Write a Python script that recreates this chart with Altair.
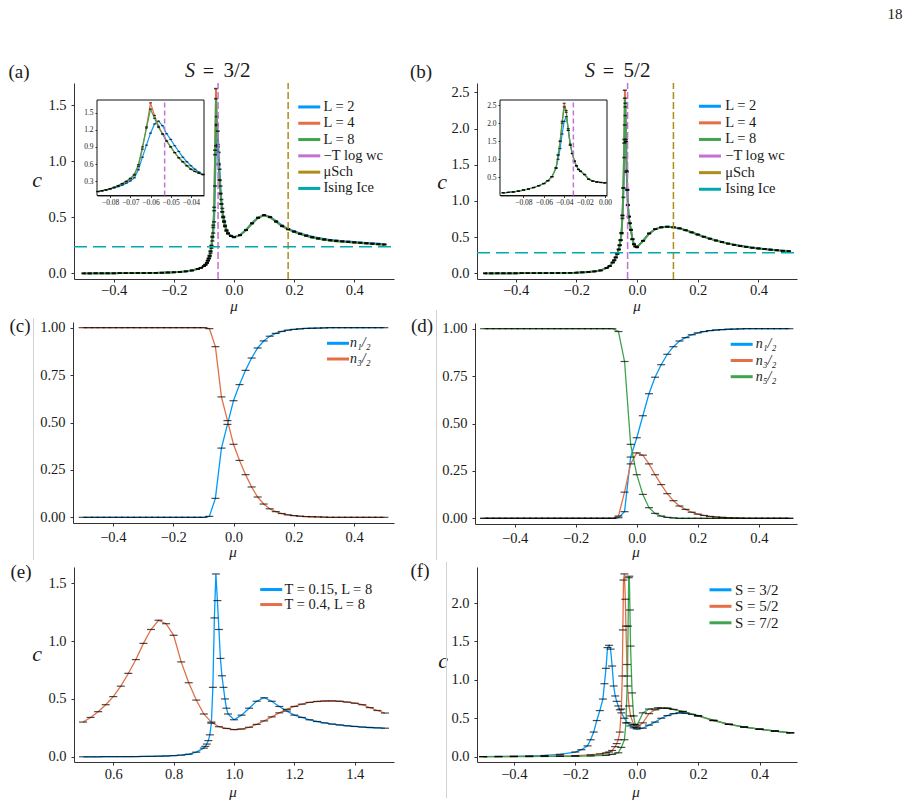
import altair as alt
import pandas as pd

W, H = 912, 805
FONT = "Liberation Serif"
BLUE, ORANGE, GREEN = "#009AFA", "#E36F47", "#3EA44E"
PURPLE, GOLD, TEAL = "#C371D2", "#AC8E18", "#00A9AD"
AXC = "#333333"
TXC = "#1a1a1a"

# ---------------- (a) S = 3/2 ----------------
mu_a = [-0.5, -0.48, -0.46, -0.44, -0.42, -0.4, -0.38, -0.36, -0.34, -0.32,
        -0.3, -0.28, -0.26, -0.24, -0.22, -0.2, -0.18, -0.16, -0.14, -0.12,
        -0.11, -0.1, -0.095, -0.09, -0.087, -0.084, -0.081, -0.078, -0.075, -0.072,
        -0.069, -0.066, -0.063, -0.06, -0.057, -0.054, -0.051, -0.048, -0.045, -0.042,
        -0.039, -0.036, -0.033, -0.03, -0.025, -0.02, -0.01, 0.0, 0.02, 0.04,
        0.06, 0.08, 0.1, 0.12, 0.14, 0.16, 0.18, 0.2, 0.22, 0.24,
        0.26, 0.28, 0.3, 0.32, 0.34, 0.36, 0.38, 0.4, 0.42, 0.44,
        0.46, 0.48, 0.5]
c_a_L2 = [0.000, 0.000, 0.001, 0.001, 0.001, 0.001, 0.002, 0.002, 0.002, 0.003,
          0.003, 0.004, 0.005, 0.006, 0.008, 0.010, 0.013, 0.018, 0.026, 0.040,
          0.050, 0.064, 0.076, 0.092, 0.112, 0.130, 0.150, 0.180, 0.225, 0.290,
          0.360, 0.460, 0.780, 1.140, 1.320, 1.270, 1.080, 0.930, 0.780, 0.660,
          0.580, 0.510, 0.470, 0.430, 0.390, 0.362, 0.337, 0.326, 0.343, 0.390,
          0.450, 0.500, 0.522, 0.506, 0.468, 0.428, 0.398, 0.378, 0.358, 0.342,
          0.328, 0.317, 0.308, 0.300, 0.294, 0.289, 0.285, 0.281, 0.277, 0.273,
          0.269, 0.265, 0.262]
c_a_L4 = [0.000, 0.000, 0.001, 0.001, 0.001, 0.001, 0.002, 0.002, 0.002, 0.003,
          0.003, 0.004, 0.005, 0.006, 0.008, 0.010, 0.013, 0.018, 0.026, 0.040,
          0.050, 0.065, 0.078, 0.095, 0.115, 0.134, 0.158, 0.196, 0.245, 0.322,
          0.410, 0.560, 1.100, 1.650, 1.400, 1.150, 0.980, 0.835, 0.715, 0.620,
          0.550, 0.500, 0.460, 0.420, 0.380, 0.355, 0.332, 0.322, 0.340, 0.386,
          0.446, 0.496, 0.519, 0.502, 0.462, 0.422, 0.394, 0.372, 0.352, 0.336,
          0.322, 0.311, 0.302, 0.295, 0.289, 0.285, 0.280, 0.276, 0.272, 0.268,
          0.264, 0.260, 0.257]
c_a_L8 = [0.000, 0.000, 0.001, 0.001, 0.001, 0.001, 0.002, 0.002, 0.002, 0.003,
          0.003, 0.004, 0.005, 0.006, 0.008, 0.010, 0.013, 0.018, 0.026, 0.040,
          0.050, 0.065, 0.078, 0.095, 0.115, 0.135, 0.160, 0.200, 0.250, 0.330,
          0.430, 0.590, 1.060, 1.560, 1.330, 1.130, 0.970, 0.830, 0.710, 0.620,
          0.550, 0.500, 0.460, 0.420, 0.380, 0.355, 0.332, 0.322, 0.340, 0.385,
          0.445, 0.495, 0.518, 0.500, 0.460, 0.420, 0.392, 0.370, 0.350, 0.334,
          0.320, 0.309, 0.300, 0.293, 0.287, 0.284, 0.279, 0.275, 0.271, 0.267,
          0.263, 0.259, 0.256]
mu_ins_a = [-0.086, -0.084, -0.082, -0.08, -0.078, -0.076, -0.074, -0.072, -0.07, -0.068,
            -0.066, -0.064, -0.062, -0.06, -0.058, -0.056, -0.054, -0.052, -0.05, -0.048,
            -0.046, -0.044, -0.042, -0.04, -0.038, -0.036, -0.034]
ins_a_L2 = [0.118, 0.130, 0.145, 0.162, 0.182, 0.205, 0.232, 0.265, 0.305, 0.360,
            0.500, 0.720, 0.930, 1.140, 1.300, 1.350, 1.270, 1.130, 1.030, 0.920,
            0.820, 0.720, 0.640, 0.570, 0.510, 0.460, 0.420]
ins_a_L4 = [0.120, 0.134, 0.149, 0.168, 0.192, 0.221, 0.255, 0.293, 0.340, 0.405,
            0.560, 0.860, 1.250, 1.670, 1.450, 1.260, 1.130, 1.005, 0.900, 0.800,
            0.710, 0.640, 0.570, 0.510, 0.470, 0.440, 0.415]
ins_a_L8 = [0.120, 0.135, 0.150, 0.170, 0.195, 0.225, 0.260, 0.300, 0.350, 0.420,
            0.590, 0.900, 1.230, 1.560, 1.400, 1.240, 1.120, 1.000, 0.900, 0.800,
            0.710, 0.640, 0.570, 0.510, 0.470, 0.440, 0.415]
ref_a = {"wc": -0.053, "sch": 0.18, "ice": 0.238}

# ---------------- (b) S = 5/2 ----------------
mu_b = [-0.5, -0.48, -0.46, -0.44, -0.42, -0.4, -0.38, -0.36, -0.34, -0.32,
        -0.3, -0.28, -0.26, -0.24, -0.22, -0.2, -0.18, -0.16, -0.14, -0.12,
        -0.1, -0.09, -0.08, -0.075, -0.07, -0.065, -0.06, -0.057, -0.054, -0.051,
        -0.048, -0.045, -0.042, -0.04, -0.038, -0.036, -0.034, -0.032, -0.03, -0.027,
        -0.024, -0.02, -0.015, -0.01, -0.005, 0.0, 0.02, 0.04, 0.06, 0.08,
        0.1, 0.12, 0.14, 0.16, 0.18, 0.2, 0.22, 0.24, 0.26, 0.28,
        0.3, 0.32, 0.34, 0.36, 0.38, 0.4, 0.42, 0.44, 0.46, 0.48,
        0.5]
c_b_L2 = [0.000, 0.000, 0.001, 0.001, 0.001, 0.001, 0.002, 0.002, 0.002, 0.003,
          0.003, 0.004, 0.005, 0.006, 0.008, 0.010, 0.014, 0.019, 0.027, 0.040,
          0.075, 0.100, 0.150, 0.180, 0.220, 0.270, 0.330, 0.385, 0.455, 0.550,
          0.760, 1.050, 1.600, 2.050, 2.180, 1.850, 1.420, 1.160, 0.950, 0.790,
          0.695, 0.605, 0.475, 0.405, 0.373, 0.362, 0.452, 0.552, 0.612, 0.638,
          0.647, 0.639, 0.624, 0.599, 0.569, 0.539, 0.509, 0.482, 0.457, 0.434,
          0.414, 0.397, 0.382, 0.369, 0.357, 0.347, 0.338, 0.330, 0.322, 0.315,
          0.309]
c_b_L4 = [0.000, 0.000, 0.001, 0.001, 0.001, 0.001, 0.002, 0.002, 0.002, 0.003,
          0.003, 0.004, 0.005, 0.006, 0.008, 0.010, 0.014, 0.019, 0.027, 0.040,
          0.075, 0.100, 0.150, 0.180, 0.220, 0.270, 0.330, 0.390, 0.460, 0.560,
          0.800, 1.180, 1.850, 2.530, 2.350, 1.820, 1.400, 1.150, 0.940, 0.780,
          0.690, 0.600, 0.470, 0.400, 0.370, 0.360, 0.450, 0.550, 0.610, 0.635,
          0.643, 0.635, 0.620, 0.595, 0.565, 0.535, 0.505, 0.478, 0.453, 0.430,
          0.410, 0.393, 0.378, 0.365, 0.353, 0.343, 0.334, 0.326, 0.318, 0.311,
          0.305]
c_b_L8 = [0.000, 0.000, 0.001, 0.001, 0.001, 0.001, 0.002, 0.002, 0.002, 0.003,
          0.003, 0.004, 0.005, 0.006, 0.008, 0.010, 0.014, 0.019, 0.027, 0.040,
          0.075, 0.100, 0.150, 0.180, 0.220, 0.270, 0.330, 0.390, 0.460, 0.560,
          0.800, 1.180, 1.800, 2.420, 2.300, 1.820, 1.400, 1.150, 0.940, 0.780,
          0.690, 0.600, 0.470, 0.400, 0.370, 0.360, 0.450, 0.550, 0.610, 0.635,
          0.643, 0.635, 0.620, 0.595, 0.565, 0.535, 0.505, 0.478, 0.453, 0.430,
          0.410, 0.393, 0.378, 0.365, 0.353, 0.343, 0.334, 0.326, 0.318, 0.311,
          0.305]
mu_ins_b = [-0.1, -0.095, -0.09, -0.085, -0.08, -0.075, -0.07, -0.065, -0.06, -0.056,
            -0.052, -0.048, -0.046, -0.044, -0.042, -0.04, -0.038, -0.036, -0.034, -0.032,
            -0.03, -0.028, -0.026, -0.024, -0.02, -0.016, -0.012, -0.008, -0.004, 0.0]
ins_b_L2 = [0.075, 0.085, 0.100, 0.120, 0.150, 0.180, 0.220, 0.270, 0.330, 0.410,
            0.520, 0.760, 1.000, 1.300, 1.700, 2.050, 2.180, 1.850, 1.420, 1.160,
            0.950, 0.820, 0.720, 0.670, 0.580, 0.450, 0.400, 0.375, 0.360, 0.350]
ins_b_L4 = [0.075, 0.085, 0.100, 0.120, 0.150, 0.180, 0.220, 0.270, 0.330, 0.410,
            0.520, 0.760, 1.120, 1.500, 2.050, 2.550, 2.350, 1.800, 1.390, 1.160,
            0.950, 0.820, 0.720, 0.670, 0.580, 0.450, 0.400, 0.375, 0.360, 0.350]
ins_b_L8 = [0.075, 0.085, 0.100, 0.120, 0.150, 0.180, 0.220, 0.270, 0.330, 0.410,
            0.520, 0.760, 1.120, 1.500, 2.000, 2.450, 2.300, 1.800, 1.390, 1.160,
            0.950, 0.820, 0.720, 0.670, 0.580, 0.450, 0.400, 0.375, 0.360, 0.350]
ref_b = {"wc": -0.031, "sch": 0.12, "ice": 0.285}

# ---------------- (c), (d) occupations ----------------
mu_n = [-0.5, -0.48, -0.46, -0.44, -0.42, -0.4, -0.38, -0.36, -0.34, -0.32,
        -0.3, -0.28, -0.26, -0.24, -0.22, -0.2, -0.18, -0.16, -0.14, -0.12,
        -0.1, -0.08, -0.06, -0.04, -0.02, 0.0, 0.02, 0.04, 0.06, 0.08,
        0.1, 0.12, 0.14, 0.16, 0.18, 0.2, 0.22, 0.24, 0.26, 0.28,
        0.3, 0.32, 0.34, 0.36, 0.38, 0.4, 0.42, 0.44, 0.46, 0.48,
        0.5]
n12_c = [0, 0, 0, 0, 0, 0, 0, 0, 0, 0,
         0, 0, 0, 0, 0, 0, 0, 0, 0, 0,
         0.0, 0.005, 0.100, 0.365, 0.490, 0.615, 0.700, 0.775, 0.840, 0.893,
         0.930, 0.955, 0.970, 0.980, 0.987, 0.991, 0.994, 0.996, 0.997, 0.998,
         0.999, 1, 1, 1, 1, 1, 1, 1, 1, 1,
         1]
n32_c = [1, 1, 1, 1, 1, 1, 1, 1, 1, 1,
         1, 1, 1, 1, 1, 1, 1, 1, 1, 1,
         1.0, 0.995, 0.900, 0.635, 0.510, 0.385, 0.300, 0.225, 0.160, 0.107,
         0.070, 0.045, 0.030, 0.020, 0.013, 0.009, 0.006, 0.004, 0.003, 0.002,
         0.001, 0, 0, 0, 0, 0, 0, 0, 0, 0,
         0]
n12_d = [0, 0, 0, 0, 0, 0, 0, 0, 0, 0,
         0, 0, 0, 0, 0, 0, 0, 0, 0, 0,
         0.0, 0.0, 0.003, 0.035, 0.323, 0.425, 0.541, 0.657, 0.744, 0.810,
         0.865, 0.905, 0.935, 0.953, 0.968, 0.978, 0.985, 0.990, 0.993, 0.995,
         0.997, 0.998, 0.999, 1, 1, 1, 1, 1, 1, 1,
         1]
n32_d = [0, 0, 0, 0, 0, 0, 0, 0, 0, 0,
         0, 0, 0, 0, 0, 0, 0, 0, 0, 0,
         0.0, 0.0, 0.012, 0.138, 0.287, 0.345, 0.333, 0.287, 0.230, 0.178,
         0.130, 0.093, 0.065, 0.047, 0.032, 0.022, 0.015, 0.010, 0.007, 0.005,
         0.003, 0.002, 0.001, 0, 0, 0, 0, 0, 0, 0,
         0]
n52_d = [1, 1, 1, 1, 1, 1, 1, 1, 1, 1,
         1, 1, 1, 1, 1, 1, 1, 1, 1, 1,
         1.0, 1.0, 0.985, 0.827, 0.390, 0.230, 0.126, 0.056, 0.026, 0.012,
         0.005, 0.002, 0, 0, 0, 0, 0, 0, 0, 0,
         0, 0, 0, 0, 0, 0, 0, 0, 0, 0,
         0]

# ---------------- (e) two temperatures ----------------
mu_e_T015 = [0.5, 0.525, 0.55, 0.575, 0.6, 0.625, 0.65, 0.675, 0.7, 0.725,
             0.75, 0.775, 0.8, 0.825, 0.85, 0.875,
             0.9, 0.905, 0.91, 0.915, 0.92, 0.925, 0.93, 0.935, 0.94, 0.945,
             0.95, 0.955, 0.96, 0.965, 0.97, 0.975, 0.98,
             1.0, 1.025, 1.05, 1.075, 1.1, 1.125, 1.15, 1.175, 1.2, 1.225,
             1.25, 1.275, 1.3, 1.325, 1.35, 1.375, 1.4, 1.425, 1.45, 1.475,
             1.5]
c_e_T015 = [0.000, 0.000, 0.000, 0.001, 0.001, 0.001, 0.002, 0.002, 0.003, 0.004,
            0.005, 0.007, 0.010, 0.015, 0.022, 0.040,
            0.075, 0.090, 0.110, 0.140, 0.190, 0.290, 0.600, 1.200, 1.580, 1.350,
            1.100, 0.850, 0.700, 0.600, 0.500, 0.420, 0.370,
            0.320, 0.360, 0.420, 0.480, 0.510, 0.480, 0.435, 0.395, 0.360, 0.340,
            0.320, 0.305, 0.293, 0.283, 0.275, 0.268, 0.262, 0.257, 0.253, 0.250,
            0.247]
mu_e_T04 = [0.5, 0.525, 0.55, 0.575, 0.6, 0.625, 0.65, 0.675, 0.7, 0.725,
            0.75, 0.775, 0.8, 0.825, 0.85, 0.875, 0.9, 0.925, 0.95, 0.975,
            1.0, 1.025, 1.05, 1.075, 1.1, 1.125, 1.15, 1.175, 1.2, 1.225,
            1.25, 1.275, 1.3, 1.325, 1.35, 1.375, 1.4, 1.425, 1.45, 1.475,
            1.5]
c_e_T04 = [0.300, 0.340, 0.390, 0.450, 0.520, 0.610, 0.720, 0.840, 0.980, 1.100,
           1.180, 1.150, 1.050, 0.820, 0.640, 0.490, 0.370, 0.300, 0.260, 0.245,
           0.235, 0.240, 0.255, 0.280, 0.310, 0.345, 0.380, 0.410, 0.435, 0.455,
           0.470, 0.478, 0.482, 0.483, 0.480, 0.473, 0.463, 0.450, 0.425, 0.400,
           0.378]

# ---------------- (f) three spins ----------------
mu_f_32 = [-0.5, -0.45, -0.4, -0.35, -0.3, -0.25, -0.2, -0.18, -0.16, -0.15,
           -0.14, -0.13, -0.12, -0.11, -0.105, -0.1, -0.095, -0.09, -0.085, -0.08,
           -0.075, -0.07, -0.065, -0.06, -0.055, -0.05, -0.04, -0.03, -0.02, -0.01,
           0.0, 0.02, 0.04, 0.06, 0.08, 0.1, 0.12, 0.14, 0.16, 0.18,
           0.2, 0.25, 0.3, 0.35, 0.4, 0.45, 0.5]
c_f_32 = [0.000, 0.002, 0.004, 0.008, 0.015, 0.030, 0.060, 0.090, 0.140, 0.220,
          0.320, 0.470, 0.600, 0.750, 0.950, 1.150, 1.420, 1.450, 1.400, 1.180,
          0.920, 0.790, 0.720, 0.660, 0.610, 0.570, 0.500, 0.440, 0.400, 0.375,
          0.360, 0.370, 0.410, 0.450, 0.500, 0.535, 0.560, 0.570, 0.565, 0.550,
          0.530, 0.470, 0.420, 0.385, 0.357, 0.333, 0.310]
mu_f_52 = [-0.5, -0.45, -0.4, -0.35, -0.3, -0.25, -0.2, -0.15, -0.12, -0.1,
           -0.09, -0.08, -0.07, -0.065, -0.06, -0.055, -0.05, -0.047, -0.045, -0.043,
           -0.04, -0.037, -0.035, -0.032, -0.03, -0.025, -0.02, -0.01, 0.0, 0.02,
           0.04, 0.06, 0.08, 0.1, 0.12, 0.15, 0.2, 0.25, 0.3, 0.35,
           0.4, 0.45, 0.5]
c_f_52 = [0.000, 0.001, 0.002, 0.003, 0.005, 0.008, 0.013, 0.024, 0.035, 0.048,
          0.060, 0.080, 0.130, 0.170, 0.220, 0.320, 0.620, 1.050, 1.650, 2.300,
          2.380, 2.050, 1.700, 1.200, 0.920, 0.660, 0.530, 0.420, 0.380, 0.440,
          0.560, 0.610, 0.630, 0.630, 0.615, 0.585, 0.530, 0.470, 0.420, 0.385,
          0.357, 0.333, 0.310]
mu_f_72 = [-0.5, -0.45, -0.4, -0.35, -0.3, -0.25, -0.2, -0.15, -0.1, -0.08,
           -0.06, -0.05, -0.04, -0.035, -0.03, -0.028, -0.026, -0.024, -0.022, -0.02,
           -0.015, -0.01, -0.005, 0.0, 0.02, 0.04, 0.07, 0.1, 0.15, 0.2,
           0.25, 0.3, 0.35, 0.4, 0.45, 0.5]
c_f_72 = [0.000, 0.000, 0.001, 0.001, 0.002, 0.003, 0.005, 0.009, 0.018, 0.030,
          0.050, 0.120, 0.220, 0.440, 1.050, 1.700, 2.330, 2.350, 1.910, 1.440,
          0.830, 0.530, 0.420, 0.400, 0.570, 0.620, 0.635, 0.630, 0.590, 0.535,
          0.475, 0.423, 0.386, 0.358, 0.334, 0.311]

# ---------------- labels ----------------
names_a = ["L = 2", "L = 4", "L = 8", "\u2212T log wc", "\u03bcSch", "Ising Ice"]
names_c = ["n\u2081/\u2082", "n\u2083/\u2082"]
names_d = ["n\u2081/\u2082", "n\u2083/\u2082", "n\u2085/\u2082"]
names_e = ["T = 0.15,  L = 8", "T = 0.4,  L = 8"]
names_f = ["S = 3/2", "S = 5/2", "S = 7/2"]
pal6 = [BLUE, ORANGE, GREEN, PURPLE, GOLD, TEAL]


def long_table(series):
    rows = []
    for name, mu, vals in series:
        assert len(mu) == len(vals), name
        rows += [{"x": m, "y": v, "s": name} for m, v in zip(mu, vals)]
    return pd.DataFrame(rows)


def x_axis(values, fmt, y_px, size=14.5, tick=3, pad=1):
    return alt.Axis(orient="bottom", offset=y_px - H, values=values, format=fmt, title=None,
                    grid=False, labelFont=FONT, labelFontSize=size, labelColor=TXC,
                    labelPadding=pad, labelOverlap=False, labelFlush=False, tickSize=tick,
                    tickColor=AXC, tickWidth=1, domainColor=AXC, domainWidth=1)


def y_axis(values, fmt, x_px, size=14.5, tick=3, pad=5):
    return alt.Axis(orient="left", offset=-x_px, values=values, format=fmt, title=None,
                    grid=False, labelFont=FONT, labelFontSize=size, labelColor=TXC,
                    labelPadding=pad, labelOverlap=False, labelFlush=False, tickSize=tick,
                    tickColor=AXC, tickWidth=1, domainColor=AXC, domainWidth=1)


def legend(x, y, size=14, offset=7, rowpad=1.3, italic=False):
    return alt.Legend(orient="none", legendX=x, legendY=y, title=None, symbolType="M-2,0H2",
                      symbolSize=121, symbolStrokeWidth=3, labelFont=FONT, labelFontSize=size,
                      labelFontStyle="italic" if italic else "normal", labelOffset=offset,
                      rowPadding=rowpad, padding=0, labelLimit=0, labelColor=TXC)


def panel(df, names, colors, xdom, xrng, ydom, yrng, xax, yax, lw, cap, capw,
          leg=None, vrules=(), hrules=(), framed=False):
    xs = alt.Scale(domain=xdom, range=xrng, nice=False, zero=False)
    ys = alt.Scale(domain=ydom, range=yrng, nice=False, zero=False)
    cs = alt.Scale(domain=names, range=colors)
    X = alt.X("x:Q", scale=xs, axis=xax)
    Y = alt.Y("y:Q", scale=ys, axis=yax)
    layers = []
    if framed:
        fr = pd.DataFrame([{"x": xdom[0], "x2": xdom[1], "y": ydom[0], "y2": ydom[1]}])
        layers.append(alt.Chart(fr).mark_rect(fill="white", stroke="#111", strokeWidth=1).encode(
            x=X, x2="x2:Q", y=Y, y2="y2:Q"))
    layers.append(alt.Chart(df).mark_line(strokeWidth=lw).encode(
        x=X, y=Y, color=alt.Color("s:N", scale=cs, legend=leg)))
    layers.append(alt.Chart(df).mark_tick(orient="horizontal", color="black", size=cap,
                                          thickness=capw).encode(x=X, y=Y))
    for name, val, dash, w in vrules:
        rd = pd.DataFrame([{"x": val, "y": ydom[0], "y2": ydom[1], "s": name}])
        layers.append(alt.Chart(rd).mark_rule(strokeDash=dash, strokeWidth=w).encode(
            x=X, y=Y, y2="y2:Q", color=alt.Color("s:N", scale=cs, legend=None)))
    for name, val, dash, w in hrules:
        rd = pd.DataFrame([{"y": val, "x": xdom[0], "x2": xdom[1], "s": name}])
        layers.append(alt.Chart(rd).mark_rule(strokeDash=dash, strokeWidth=w).encode(
            x=X, x2="x2:Q", y=Y, color=alt.Color("s:N", scale=cs, legend=None)))
    return alt.layer(*layers)


ONE = alt.Data(values=[{}])


def text(s, x, y, size, italic=False, align="center"):
    return alt.Chart(ONE).mark_text(text=s, font=FONT, fontSize=size,
                                    fontStyle="italic" if italic else "normal",
                                    align=align, baseline="middle", color=TXC).encode(
        x=alt.value(x), y=alt.value(y))


def gray_line(x, y1, y2):
    return alt.Chart(ONE).mark_rule(color="#d2d2d2", strokeWidth=1).encode(
        x=alt.value(x), y=alt.value(y1), y2=alt.value(y2))


MU_DOM = [-0.532, 0.532]
t1 = [-0.4, -0.2, 0.0, 0.2, 0.4]

# (a)
pa = panel(long_table([(names_a[0], mu_a, c_a_L2), (names_a[1], mu_a, c_a_L4), (names_a[2], mu_a, c_a_L8)]),
           names_a, pal6, MU_DOM, [74, 394], [-0.05, 1.70], [279, 83],
           x_axis(t1, ".1f", 279), y_axis([0, 0.5, 1.0, 1.5], ".1f", 74), 1.8, 4, 1.6,
           leg=legend(302, 99.7, size=14.5, rowpad=1.3),
           vrules=[(names_a[3], ref_a["wc"], [7, 3], 1.5), (names_a[4], ref_a["sch"], [7, 3], 1.5)],
           hrules=[(names_a[5], ref_a["ice"], [13, 6], 1.5)])
ia = panel(long_table([(names_a[0], mu_ins_a, ins_a_L2), (names_a[1], mu_ins_a, ins_a_L4),
                       (names_a[2], mu_ins_a, ins_a_L8)]),
           names_a, pal6, [-0.0865, -0.0335], [97, 204], [0.05, 1.72], [195.5, 100],
           x_axis([-0.08, -0.07, -0.06, -0.05, -0.04], ".2f", 195.5, size=7.5, tick=2, pad=1),
           y_axis([0.3, 0.6, 0.9, 1.2, 1.5], ".1f", 97, size=7.5, tick=2, pad=2), 1.2, 3, 1.2,
           vrules=[(names_a[3], ref_a["wc"], [5, 3], 1.5)], framed=True)

# (b)
pb = panel(long_table([(names_a[0], mu_b, c_b_L2), (names_a[1], mu_b, c_b_L4), (names_a[2], mu_b, c_b_L8)]),
           names_a, pal6, [-0.527, 0.527], [477, 797], [-0.078, 2.63], [279, 83],
           x_axis(t1, ".1f", 279), y_axis([0, 0.5, 1.0, 1.5, 2.0, 2.5], ".1f", 477), 1.8, 4, 1.6,
           leg=legend(702.7, 99, size=14.5, offset=8, rowpad=1.6),
           vrules=[(names_a[3], ref_b["wc"], [7, 3], 1.5), (names_a[4], ref_b["sch"], [7, 3], 1.5)],
           hrules=[(names_a[5], ref_b["ice"], [13, 6], 1.5)])
ib = panel(long_table([(names_a[0], mu_ins_b, ins_b_L2), (names_a[1], mu_ins_b, ins_b_L4),
                       (names_a[2], mu_ins_b, ins_b_L8)]),
           names_a, pal6, [-0.103, 0.002], [500, 607], [0.0, 2.64], [195.5, 100],
           x_axis([-0.08, -0.06, -0.04, -0.02, 0.0], ".2f", 195.5, size=7.5, tick=2, pad=1),
           y_axis([0.5, 1.0, 1.5, 2.0, 2.5], ".1f", 500, size=7.5, tick=2, pad=2), 1.2, 3, 1.2,
           vrules=[(names_a[3], ref_b["wc"], [5, 3], 1.5)], framed=True)

# (c)
pc = panel(long_table([(names_c[0], mu_n, n12_c), (names_c[1], mu_n, n32_c)]),
           names_c, [BLUE, ORANGE], MU_DOM, [73, 394], [-0.03, 1.03], [523, 322],
           x_axis(t1, ".1f", 523, pad=4), y_axis([0, 0.25, 0.5, 0.75, 1.0], ".2f", 73), 1.3, 8, 1.2,
           leg=legend(331, 336.3, offset=5, rowpad=1.7, italic=True))
# (d)
pdd = panel(long_table([(names_d[0], mu_n, n12_d), (names_d[1], mu_n, n32_d), (names_d[2], mu_n, n52_d)]),
            names_d, [BLUE, ORANGE, GREEN], [-0.53, 0.525], [475, 797], [-0.03, 1.03], [524, 323],
            x_axis(t1, ".1f", 524, pad=4), y_axis([0, 0.25, 0.5, 0.75, 1.0], ".2f", 475), 1.3, 8, 1.2,
            leg=legend(734.7, 337.3, offset=7, rowpad=2.2, italic=True))
# (e)
pe = panel(long_table([(names_e[0], mu_e_T015, c_e_T015), (names_e[1], mu_e_T04, c_e_T04)]),
           names_e, [BLUE, ORANGE], [0.47, 1.53], [74, 394], [-0.045, 1.64], [762, 567],
           x_axis([0.6, 0.8, 1.0, 1.2, 1.4], ".1f", 762, pad=2), y_axis([0, 0.5, 1.0, 1.5], ".1f", 74),
           1.3, 8, 1.2, leg=legend(264, 582.3, size=14.5, offset=6, rowpad=0))
# (f)
pf = panel(long_table([(names_f[0], mu_f_32, c_f_32), (names_f[1], mu_f_52, c_f_52),
                       (names_f[2], mu_f_72, c_f_72)]),
           names_f, [BLUE, ORANGE, GREEN], [-0.52, 0.522], [477, 797], [-0.07, 2.47], [762, 567],
           x_axis(t1, ".1f", 762, pad=2), y_axis([0, 0.5, 1.0, 1.5, 2.0], ".1f", 477),
           1.3, 8, 1.2, leg=legend(713, 582.3, size=15, offset=7, rowpad=0.5))

texts = [
    text("18", 895, 14, 15),
    text("(a)", 19, 72, 19), text("(b)", 421, 72, 19), text("(c)", 20, 326, 19),
    text("(d)", 422, 326, 19), text("(e)", 21, 572, 19), text("(f)", 420, 571, 19),
    text("S", 190, 71, 20, italic=True), text("=", 208.3, 72, 20), text("3/2", 237, 71, 21),
    text("S", 590, 71, 20, italic=True), text("=", 608.3, 72, 20), text("5/2", 637, 71, 21),
    text("c", 37, 180, 22, italic=True), text("c", 442, 182, 22, italic=True),
    text("c", 37, 654, 22, italic=True), text("c", 443, 661, 22, italic=True),
    text("\u03bc", 234, 306, 15, italic=True), text("\u03bc", 637, 306, 15, italic=True),
    text("\u03bc", 233, 552, 15, italic=True), text("\u03bc", 636, 552, 15, italic=True),
    text("\u03bc", 233, 792, 15, italic=True), text("\u03bc", 636, 792, 15, italic=True),
    gray_line(33.5, 318, 560), gray_line(436.5, 310, 560), gray_line(446.5, 562, 798),
]

chart = alt.layer(pa, ia, pb, ib, pc, pdd, pe, pf, *texts).resolve_scale(
    x="independent", y="independent", color="independent"
).properties(
    width=W, height=H, padding=0, background="white",
    autosize=alt.AutoSizeParams(type="none")
).configure_view(stroke=None).configure_axis(
    labelFont=FONT, titleFont=FONT
).configure_legend(labelFont=FONT, titleFont=FONT).configure_text(font=FONT)

chart.save("out.html", embed_options={"renderer": "svg", "actions": False})
